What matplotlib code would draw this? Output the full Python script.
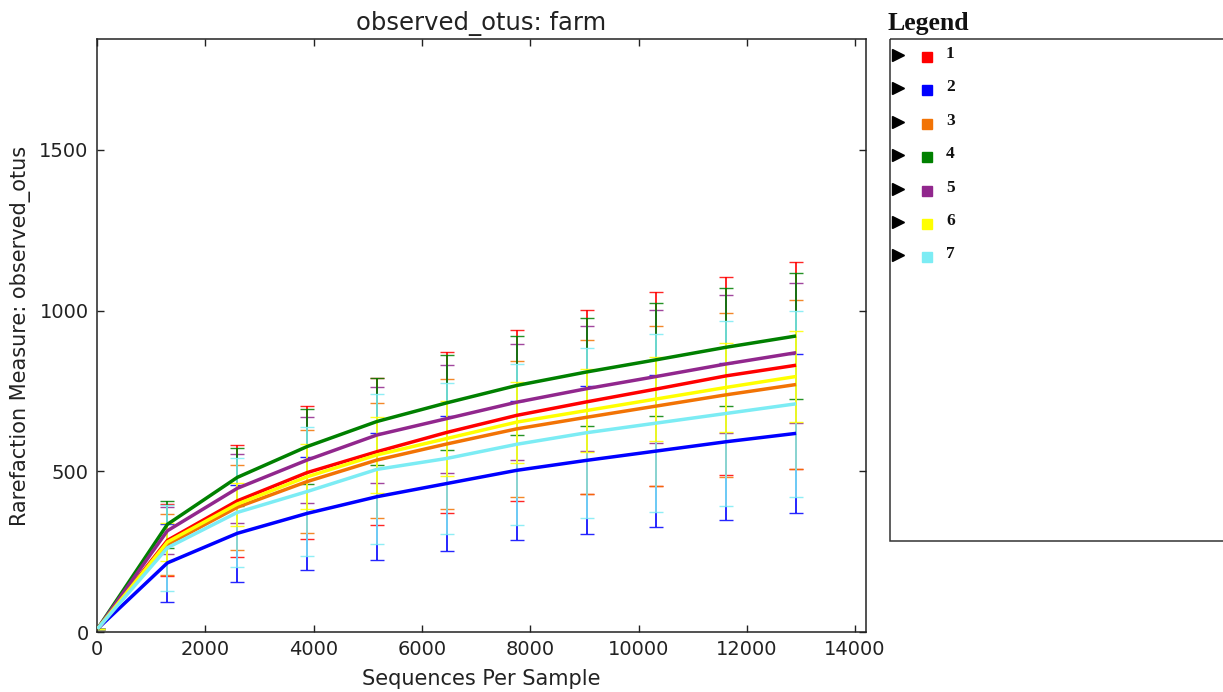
import matplotlib
matplotlib.use("Agg")
import matplotlib.pyplot as plt
from matplotlib.patches import Rectangle

# ---- data ----
depths = [10, 1300, 2590, 3880, 5170, 6460, 7750, 9040, 10330, 11620, 12910]
labels = ["1", "2", "3", "4", "5", "6", "7"]
colors = ["#FF0000", "#0000FF", "#F27304", "#008000", "#91278D", "#FFFF00", "#7CECF4"]

mean_1 = [10, 285, 408, 496, 561, 621, 674, 716, 756, 797, 830]
sd_1 = [0.3, 112, 174, 208, 229, 250, 266, 286, 303, 309, 322]
mean_2 = [10, 215, 307, 369, 421, 462, 503, 534, 563, 592, 618]
sd_2 = [0.5, 121, 150, 177, 197, 210, 217, 230, 237, 244, 247]
mean_3 = [10, 272, 388, 468, 535, 585, 632, 668, 703, 738, 770]
sd_3 = [0.4, 94, 132, 160, 179, 202, 212, 239, 248, 255, 263]
mean_4 = [10, 335, 481, 577, 655, 713, 767, 809, 847, 886, 921]
sd_4 = [0.3, 73, 90, 118, 135, 148, 154, 168, 176, 184, 195]
mean_5 = [10, 315, 447, 535, 613, 664, 715, 757, 795, 834, 869]
sd_5 = [0.3, 73, 108, 133, 148, 168, 181, 194, 207, 216, 218]
mean_6 = [10, 280, 398, 483, 551, 602, 653, 689, 725, 761, 795]
sd_6 = [0.3, 60, 67, 101, 119, 118, 126, 130, 132, 139, 142]
mean_7 = [10, 262, 372, 437, 506, 540, 584, 620, 650, 680, 710]
sd_7 = [0.4, 133, 170, 200, 233, 236, 250, 265, 276, 288, 289]

means = [mean_1, mean_2, mean_3, mean_4, mean_5, mean_6, mean_7]
sds = [sd_1, sd_2, sd_3, sd_4, sd_5, sd_6, sd_7]

title = "observed_otus: farm"
xlabel = "Sequences Per Sample"
ylabel = "Rarefaction Measure: observed_otus"
xticks = [0, 2000, 4000, 6000, 8000, 10000, 12000, 14000]
yticks = [0, 500, 1000, 1500]

# ---- figure ----
W, H = 1223, 692
fig = plt.figure(figsize=(W / 100, H / 100), dpi=100)
plt.rcParams["font.family"] = ["DejaVu Sans"]

ax = fig.add_axes([97 / W, 1 - 632 / H, (866 - 97) / W, (632 - 39) / H])

# error bars drawn first (specific stacking order), lines on top
err_order = [0, 1, 2, 4, 3, 6, 5]
for z, i in enumerate(err_order):
    ax.errorbar(depths, means[i], yerr=sds[i], fmt="none", ecolor=colors[i],
                elinewidth=1.4, capsize=5, capthick=1.0, alpha=0.85,
                zorder=2 + z * 0.01)
for i in range(len(labels)):
    ax.plot(depths, means[i], color=colors[i], lw=2.5, zorder=3 + i * 0.01,
            solid_capstyle="butt")

ax.set_xlim(0, 1.1 * max(depths))
ax.set_ylim(0, 1845)
ax.set_xticks(xticks)
ax.set_yticks(yticks)
ax.tick_params(direction="in", length=5, width=1, top=True, right=True,
               labelsize=14, pad=6, colors="#222222", labelcolor="#222222")
for s in ax.spines.values():
    s.set_linewidth(1.1)
    s.set_color("#222222")
ax.set_title(title, fontsize=17.5, color="#222222", pad=6.5)
ax.set_xlabel(xlabel, fontsize=15, color="#222222", labelpad=7)
ax.set_ylabel(ylabel, fontsize=15, color="#222222", labelpad=6)

# ---- HTML-style legend panel ----
lax = fig.add_axes([0, 0, 1, 1])
lax.set_xlim(0, W)
lax.set_ylim(H, 0)
lax.axis("off")
lax.text(887, 30, "Legend", fontsize=18.5, fontweight="bold",
         family=["Liberation Serif", "DejaVu Serif"], va="baseline", ha="left",
         color="#111111")
lax.add_patch(Rectangle((889.5, 38.5), 345, 502, fill=False, lw=1.1,
                        ec="#333333"))
for i, lab in enumerate(labels):
    y = 55 + 33.4 * i
    lax.plot([898], [y], marker=">", color="black", markersize=8, mec="black")
    lax.plot([927], [y + 2], marker="s", color=colors[i], markersize=7.5,
             mec=colors[i])
    lax.text(946, y - 1, lab, fontsize=12.5, fontweight="bold",
             family=["Liberation Serif", "DejaVu Serif"], va="center",
             ha="left", color="#111111")

fig.savefig("out.png", dpi=100)
